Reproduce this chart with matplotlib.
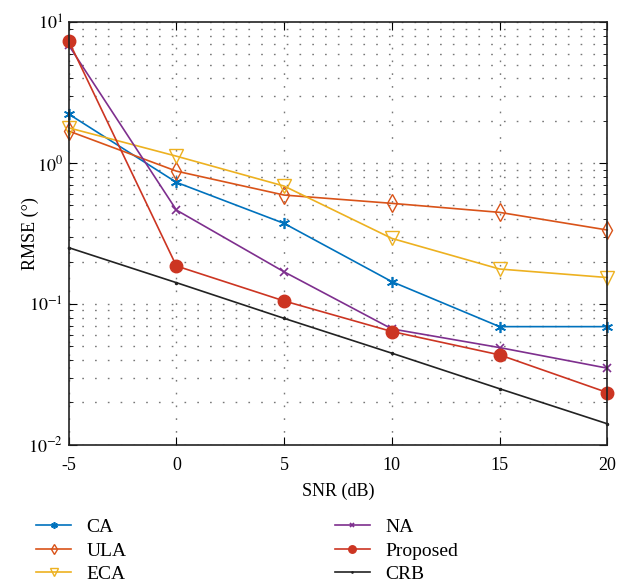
import numpy as np
import matplotlib
matplotlib.use('Agg')
import matplotlib.pyplot as plt

plt.rcParams['font.family'] = ['Liberation Serif', 'DejaVu Serif']
plt.rcParams['mathtext.fontset'] = 'stix'

snr = [-5, 0, 5, 10, 15, 20]
ca = [2.23, 0.73, 0.373, 0.144, 0.069, 0.069]
ula = [1.69, 0.877, 0.593, 0.518, 0.447, 0.335]
eca = [1.78, 1.12, 0.687, 0.292, 0.177, 0.154]
na = [6.87, 0.464, 0.169, 0.0665, 0.049, 0.035]
proposed = [7.37, 0.186, 0.105, 0.0637, 0.0435, 0.0235]
crb = [0.251, 0.1416, 0.079, 0.0447, 0.025, 0.0141]

fig = plt.figure(figsize=(6.19, 5.86), dpi=100)
ax = fig.add_axes([0.111, 0.241, 0.870, 0.721])

kw = dict(lw=1.2, clip_on=False)
ax.semilogy(snr, ca, color='#0072BD', marker=(6, 2, 0), ms=8, mew=1.2, label='CA', **kw)
ax.semilogy(snr, ula, color='#D95319', marker='d', ms=9, mfc='none', mew=1.0, label='ULA', **kw)
ax.semilogy(snr, eca, color='#EDB120', marker='v', ms=10, mfc='none', mew=1.0, label='ECA', **kw)
ax.semilogy(snr, na, color='#7E2F8E', marker='x', ms=6, mew=1.2, label='NA', **kw)
ax.semilogy(snr, proposed, color='#CC3522', marker='o', ms=9, label='Proposed', **kw)
ax.semilogy(snr, crb, color='#222222', marker='.', ms=3, label='CRB', **kw)

ax.set_xlim(-5, 20)
ax.set_ylim(1e-2, 1e1)
ax.set_xticks(snr)
ax.set_xticklabels([str(s) for s in snr])
ax.set_yticks([1e-2, 1e-1, 1e0, 1e1])
ax.set_yticklabels([r'$10^{-2}$', r'$10^{-1}$', r'$10^{0}$', r'$10^{1}$'])
ax.tick_params(which='both', direction='in', top=True, right=True, labelsize=13)
ax.tick_params(which='major', length=6)
ax.tick_params(axis='x', which='major', pad=9)
ax.tick_params(axis='y', which='major', pad=4)
ax.tick_params(which='minor', length=3)
ax.tick_params(axis='x', which='minor', bottom=False, top=False)
ax.grid(True, which='major', color='#777777', linestyle=(0, (1.2, 8)), linewidth=1.0)
ax.grid(True, which='minor', axis='y', color='#777777', linestyle=(0, (1.2, 8)), linewidth=1.0)
for s in ax.spines.values():
    s.set_linewidth(1.2)
    s.set_color('#222222')

ax.set_xlabel('SNR (dB)', fontsize=13, labelpad=6)
ax.set_ylabel('RMSE (°)', fontsize=13)
ax.yaxis.set_label_coords(-0.056, 0.5)

h, l = ax.get_legend_handles_labels()
fig.legend(h, l, ncol=2, loc='upper left', bbox_to_anchor=(0.03, 0.145), frameon=False,
           fontsize=14, columnspacing=10.7, handlelength=1.8, labelspacing=0.3,
           markerscale=0.6)

fig.savefig('out.png', dpi=100)
